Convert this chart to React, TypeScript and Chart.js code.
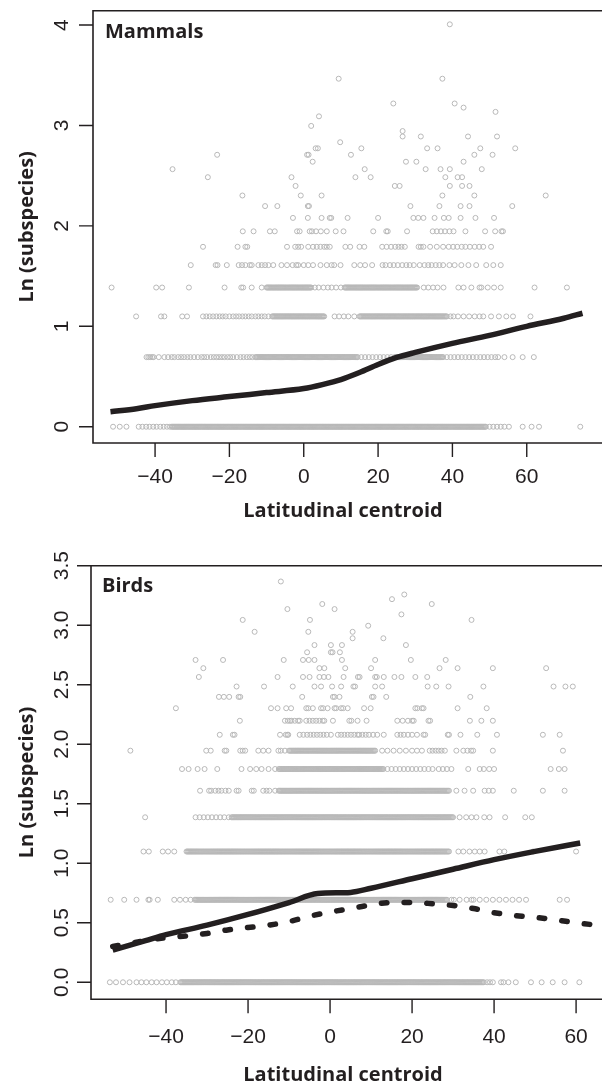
import React, { useEffect, useRef } from "react";
import { Chart, registerables } from "chart.js";

Chart.register(...registerables);

// ---------------- Mammals (top panel) ----------------
// Latitudes of species per subspecies count (plotted at y = ln(count))
const mammalsN1 = [-51.3,-49.5,-47.7,-44.4,-43.4,-42.4,-41.5,-40.5,-39.6,-38.6,-37.7,-36.8,-36,
-35.5,-35.25,-35,-34.75,-34.5,-34.25,-34,-33.75,-33.5,-33.25,-33,-32.75,-32.5,-32.25,-32,-31.75,-31.5,-31.25,-31,-30.75,-30.5,-30.25,-30,-29.75,-29.5,-29.25,-29,-28.75,-28.5,-28.25,-28,-27.75,-27.5,-27.25,-27,-26.75,-26.5,-26.25,-26,-25.75,-25.5,-25.25,-25,-24.75,-24.5,-24.25,-24,-23.75,-23.5,-23.25,-23,-22.75,-22.5,-22.25,-22,-21.75,-21.5,-21.25,-21,-20.75,-20.5,-20.25,-20,-19.75,-19.5,-19.25,-19,-18.75,-18.5,-18.25,-18,-17.75,-17.5,-17.25,-17,-16.75,-16.5,-16.25,-16,-15.75,-15.5,-15.25,-15,-14.75,-14.5,-14.25,-14,-13.75,-13.5,-13.25,-13,-12.75,-12.5,-12.25,-12,-11.75,-11.5,-11.25,-11,-10.75,-10.5,-10.25,-10,-9.75,-9.5,-9.25,-9,-8.75,-8.5,-8.25,-8,-7.75,-7.5,-7.25,-7,-6.75,-6.5,-6.25,-6,-5.75,-5.5,-5.25,-5,-4.75,-4.5,-4.25,-4,-3.75,-3.5,-3.25,-3,-2.75,-2.5,-2.25,-2,-1.75,-1.5,-1.25,-1,-0.75,-0.5,-0.25,0,0.25,0.5,0.75,1,1.25,1.5,1.75,2,2.25,2.5,2.75,3,3.25,3.5,3.75,4,4.25,4.5,4.75,5,5.25,5.5,5.75,6,6.25,6.5,6.75,7,7.25,7.5,7.75,8,8.25,8.5,8.75,9,9.25,9.5,9.75,10,10.25,10.5,10.75,11,11.25,11.5,11.75,12,12.25,12.5,12.75,13,13.25,13.5,13.75,14,14.25,14.5,14.75,15,15.25,15.5,15.75,16,16.25,16.5,16.75,17,17.25,17.5,17.75,18,18.25,18.5,18.75,19,19.25,19.5,19.75,20,20.25,20.5,20.75,21,21.25,21.5,21.75,22,22.25,22.5,22.75,23,23.25,23.5,23.75,24,24.25,24.5,24.75,25,25.25,25.5,25.75,26,26.25,26.5,26.75,27,27.25,27.5,27.75,28,28.25,28.5,28.75,29,29.25,29.5,29.75,30,30.25,30.5,30.75,31,31.25,31.5,31.75,32,32.25,32.5,32.75,33,33.25,33.5,33.75,34,34.25,34.5,34.75,35,35.25,35.5,35.75,36,36.25,36.5,36.75,37,37.25,37.5,37.75,38,38.25,38.5,38.75,39,39.25,39.5,39.75,40,40.25,40.5,40.75,41,41.25,41.5,41.75,42,42.25,42.5,42.75,43,43.25,43.5,43.75,44,44.25,44.5,44.75,45,45.25,45.5,45.75,46,46.25,46.5,46.75,47,47.25,47.5,47.75,48,48.25,48.5,48.75,49,
50,51,52,53,54,55.2,58.9,61.3,63.3,74.4];

const mammalsN2 = [-42.3,-41.8,-41.3,-40.8,-40.4,-39,-37.5,-36.5,-35.5,-34.8,-33.8,-33,-32.2,-31.3,-30.5,-29.5,-28.5,-27.5,-26.8,-26,-25,-24.2,-23.5,-22.8,-22,-21.3,-20.5,-19.8,-19,-18,-17,-16.2,-15.3,-14.5,-13.8,
-13,-12.75,-12.5,-12.25,-12,-11.75,-11.5,-11.25,-11,-10.75,-10.5,-10.25,-10,-9.75,-9.5,-9.25,-9,-8.75,-8.5,-8.25,-8,-7.75,-7.5,-7.25,-7,-6.75,-6.5,-6.25,-6,-5.75,-5.5,-5.25,-5,-4.75,-4.5,-4.25,-4,-3.75,-3.5,-3.25,-3,-2.75,-2.5,-2.25,-2,-1.75,-1.5,-1.25,-1,-0.75,-0.5,-0.25,0,0.25,0.5,0.75,1,1.25,1.5,1.75,2,2.25,2.5,2.75,3,3.25,3.5,3.75,4,4.25,4.5,4.75,5,5.25,5.5,5.75,6,6.25,6.5,6.75,7,7.25,7.5,7.75,8,8.25,8.5,8.75,9,9.25,9.5,9.75,10,10.25,10.5,10.75,11,11.25,11.5,11.75,12,12.25,12.5,12.75,13,13.25,13.5,13.75,14,14.25,14.5,
15.5,16.5,17.5,18.5,19.5,20.5,21.5,22.5,23.5,
24.5,24.75,25,25.25,25.5,25.75,26,26.25,26.5,26.75,27,27.25,27.5,27.75,28,28.25,28.5,28.75,29,29.25,29.5,29.75,30,30.25,30.5,30.75,31,31.25,31.5,31.75,32,32.25,32.5,32.75,33,33.25,33.5,33.75,34,34.25,34.5,34.75,35,35.25,35.5,35.75,36,36.25,36.5,36.75,37,37.25,37.5,
38.5,39.5,40.5,41.5,42.5,43.5,44.5,45.5,46.5,47.5,48.5,49.5,50.5,51.5,52.3,54,56.2,58.9,61.9];

const mammalsN3 = [-45.1,-38.4,-37.5,-32.7,-31.4,-27.1,-26.2,-25.3,-24.4,-23.5,-22.6,-21.8,-21,-20,-19,-18.2,-17.4,-16.5,-15.7,-14.8,-14,-13,-12.2,-11.3,-10.5,-9.5,
-8.5,-8.25,-8,-7.75,-7.5,-7.25,-7,-6.75,-6.5,-6.25,-6,-5.75,-5.5,-5.25,-5,-4.75,-4.5,-4.25,-4,-3.75,-3.5,-3.25,-3,-2.75,-2.5,-2.25,-2,-1.75,-1.5,-1.25,-1,-0.75,-0.5,-0.25,0,0.25,0.5,0.75,1,1.25,1.5,1.75,2,2.25,2.5,2.75,3,3.25,3.5,3.75,4,4.25,4.5,4.75,5,5.25,5.5,
8.3,9.5,10.8,12,13.6,
15,15.25,15.5,15.75,16,16.25,16.5,16.75,17,17.25,17.5,17.75,18,18.25,18.5,18.75,19,19.25,19.5,19.75,20,20.25,20.5,20.75,21,21.25,21.5,21.75,22,22.25,22.5,22.75,23,23.25,23.5,23.75,24,24.25,24.5,24.75,25,25.25,25.5,25.75,26,26.25,26.5,26.75,27,27.25,27.5,27.75,28,28.25,28.5,28.75,29,29.25,29.5,29.75,30,30.25,30.5,30.75,31,31.25,31.5,31.75,32,32.25,32.5,32.75,33,33.25,33.5,33.75,34,34.25,34.5,34.75,35,35.25,35.5,35.75,36,36.25,36.5,36.75,37,37.25,37.5,37.75,38,38.25,38.5,
39.5,40.3,41.5,43,44.5,46,47.3,48.3,50.4,52.5,54.5,56.3,61];

const mammalsN4 = [-51.7,-39.7,-38.1,-30.9,-21.3,-16.8,-16.3,-14,-11.3,
-10,-9.75,-9.5,-9.25,-9,-8.75,-8.5,-8.25,-8,-7.75,-7.5,-7.25,-7,-6.75,-6.5,-6.25,-6,-5.75,-5.5,-5.25,-5,-4.75,-4.5,-4.25,-4,-3.75,-3.5,-3.25,-3,-2.75,-2.5,-2.25,-2,-1.75,-1.5,-1.25,-1,-0.75,-0.5,-0.25,0,0.25,0.5,0.75,1,1.25,1.5,1.75,2,
3,4,5.3,6.5,7.5,8.7,10,
11,11.25,11.5,11.75,12,12.25,12.5,12.75,13,13.25,13.5,13.75,14,14.25,14.5,14.75,15,15.25,15.5,15.75,16,16.25,16.5,16.75,17,17.25,17.5,17.75,18,18.25,18.5,18.75,19,19.25,19.5,19.75,20,20.25,20.5,20.75,21,21.25,21.5,21.75,22,22.25,22.5,22.75,23,23.25,23.5,23.75,24,24.25,24.5,24.75,25,25.25,25.5,25.75,26,26.25,26.5,26.75,27,27.25,27.5,27.75,28,28.25,28.5,28.75,29,29.25,29.5,29.75,30,30.25,30.5,
32.3,33.5,34.8,36,37.6,41.6,43,45.1,47.3,47.8,49.5,51.2,53,62.1,70.8];

const mammalsN5 = [-30.4,-23.7,-23.2,-20.7,-17.5,-16.6,-15.7,-14.5,-14,-12.2,-11.3,-10.4,-9.5,-8.2,-6,-4.5,-3,-2,-1.5,0,1.2,2.5,4.5,6.2,7.5,8.2,9.9,13.6,15.2,16.5,18.4,21.2,22,23.2,24.2,25.3,26.5,27.6,28.5,29.6,31.2,32.5,33.5,34.4,35.5,36.5,37.5,39.2,40.6,42.4,44.3,46.4,49.1,51,53];

const mammalsN6 = [-27.1,-17.8,-15.7,-15.2,-4.5,-2.3,-1.5,-0.7,1.2,2.5,3.5,4.5,5.5,6.2,7,11.2,12.5,15,16.3,21.1,22.3,23.5,24.6,25.5,26.3,27.2,30.9,31.5,32.2,34,35.8,37.5,39,40.2,41.3,42.5,43.5,44.7,46,47.2,48.3,50.4];

const mammalsN7 = [-16.4,-13.5,-9.1,-7.8,-1.8,-1.1,1.6,2.2,3.3,4.6,6.2,8.6,10.7,18.7,22.2,22.6,27.8,34.7,35.8,36.9,38,39.2,40.3,43.5,48.8,51.5,53.2,53.6];

const mammalsSparse: [number, number[]][] = [
  [8, [-2.9,1.1,4.8,7,7.4,11.8,20,29.5,30.8,32.2,35.2,37.7,39,42.2,46.2,51.2]],
  [9, [-10.4,-7.1,1.1,1.4,28.7,36.5,42.2,44.6,56.1]],
  [10, [-16.5,-0.8,4.8,37.3,45.9,65.1]],
  [11, [-2.2,24.5,25.8,39.3,42.6,44.6]],
  [12, [-25.8,-3.3,13.9,18,38.1,41.4,42.6]],
  [13, [-35.3,16.4,32.8,36.8,39.3,47.9]],
  [14, [2.4,27.5,30.3,43]],
  [15, [-23.3,0.9,1.3,12.7,45.9,50.8]],
  [16, [3.2,3.8,15.5,33.2,36,47.5,56.9]],
  [17, [9.8]],
  [18, [26.6,31.5,44.2,52]],
  [19, [26.6]],
  [20, [2]],
  [22, [4.1]],
  [23, [51.6]],
  [24, [43]],
  [25, [24.1,40.6]],
  [32, [9.4,37.3]],
  [55, [39.3]],
];

const mammalsFitX = [-52,-45,-40,-30,-20,-10,0,5,10,15,20,25,30,40,50,60,70,75];
const mammalsFitY = [0.15,0.18,0.21,0.26,0.30,0.34,0.38,0.42,0.47,0.54,0.62,0.69,0.74,0.83,0.91,1.0,1.08,1.13];

// ---------------- Birds (bottom panel) ----------------
const birdsN1 = [-53.7,-52.2,-50.5,-48.9,-47.2,-46,-44.8,-43.5,-42.3,-41,-39.8,-38.6,-37.6,
-36.5,-36.25,-36,-35.75,-35.5,-35.25,-35,-34.75,-34.5,-34.25,-34,-33.75,-33.5,-33.25,-33,-32.75,-32.5,-32.25,-32,-31.75,-31.5,-31.25,-31,-30.75,-30.5,-30.25,-30,-29.75,-29.5,-29.25,-29,-28.75,-28.5,-28.25,-28,-27.75,-27.5,-27.25,-27,-26.75,-26.5,-26.25,-26,-25.75,-25.5,-25.25,-25,-24.75,-24.5,-24.25,-24,-23.75,-23.5,-23.25,-23,-22.75,-22.5,-22.25,-22,-21.75,-21.5,-21.25,-21,-20.75,-20.5,-20.25,-20,-19.75,-19.5,-19.25,-19,-18.75,-18.5,-18.25,-18,-17.75,-17.5,-17.25,-17,-16.75,-16.5,-16.25,-16,-15.75,-15.5,-15.25,-15,-14.75,-14.5,-14.25,-14,-13.75,-13.5,-13.25,-13,-12.75,-12.5,-12.25,-12,-11.75,-11.5,-11.25,-11,-10.75,-10.5,-10.25,-10,-9.75,-9.5,-9.25,-9,-8.75,-8.5,-8.25,-8,-7.75,-7.5,-7.25,-7,-6.75,-6.5,-6.25,-6,-5.75,-5.5,-5.25,-5,-4.75,-4.5,-4.25,-4,-3.75,-3.5,-3.25,-3,-2.75,-2.5,-2.25,-2,-1.75,-1.5,-1.25,-1,-0.75,-0.5,-0.25,0,0.25,0.5,0.75,1,1.25,1.5,1.75,2,2.25,2.5,2.75,3,3.25,3.5,3.75,4,4.25,4.5,4.75,5,5.25,5.5,5.75,6,6.25,6.5,6.75,7,7.25,7.5,7.75,8,8.25,8.5,8.75,9,9.25,9.5,9.75,10,10.25,10.5,10.75,11,11.25,11.5,11.75,12,12.25,12.5,12.75,13,13.25,13.5,13.75,14,14.25,14.5,14.75,15,15.25,15.5,15.75,16,16.25,16.5,16.75,17,17.25,17.5,17.75,18,18.25,18.5,18.75,19,19.25,19.5,19.75,20,20.25,20.5,20.75,21,21.25,21.5,21.75,22,22.25,22.5,22.75,23,23.25,23.5,23.75,24,24.25,24.5,24.75,25,25.25,25.5,25.75,26,26.25,26.5,26.75,27,27.25,27.5,27.75,28,28.25,28.5,28.75,29,29.25,29.5,29.75,30,30.25,30.5,30.75,31,31.25,31.5,31.75,32,32.25,32.5,32.75,33,33.25,33.5,33.75,34,34.25,34.5,34.75,35,35.25,35.5,35.75,36,36.25,36.5,36.75,37,37.25,37.5,
38.3,39,39.7,41.7,42.3,43.5,45.3,49,51.6,54.3,57.2,60.8];

const birdsN2 = [-53.5,-50.2,-47.2,-44.3,-44,-42,-38,-36.6,-35.2,-34,
-33,-32.75,-32.5,-32.25,-32,-31.75,-31.5,-31.25,-31,-30.75,-30.5,-30.25,-30,-29.75,-29.5,-29.25,-29,-28.75,-28.5,-28.25,-28,-27.75,-27.5,-27.25,-27,-26.75,-26.5,-26.25,-26,-25.75,-25.5,-25.25,-25,-24.75,-24.5,-24.25,-24,-23.75,-23.5,-23.25,-23,-22.75,-22.5,-22.25,-22,-21.75,-21.5,-21.25,-21,-20.75,-20.5,-20.25,-20,-19.75,-19.5,-19.25,-19,-18.75,-18.5,-18.25,-18,-17.75,-17.5,-17.25,-17,-16.75,-16.5,-16.25,-16,-15.75,-15.5,-15.25,-15,-14.75,-14.5,-14.25,-14,-13.75,-13.5,-13.25,-13,-12.75,-12.5,-12.25,-12,-11.75,-11.5,-11.25,-11,-10.75,-10.5,-10.25,-10,-9.75,-9.5,-9.25,-9,-8.75,-8.5,-8.25,-8,-7.75,-7.5,-7.25,-7,-6.75,-6.5,-6.25,-6,-5.75,-5.5,-5.25,-5,-4.75,-4.5,-4.25,-4,-3.75,-3.5,-3.25,-3,-2.75,-2.5,-2.25,-2,-1.75,-1.5,-1.25,-1,-0.75,-0.5,-0.25,0,0.25,0.5,0.75,1,1.25,1.5,1.75,2,2.25,2.5,2.75,3,3.25,3.5,3.75,4,4.25,4.5,4.75,5,5.25,5.5,5.75,6,6.25,6.5,6.75,7,7.25,7.5,7.75,8,8.25,8.5,8.75,9,9.25,9.5,9.75,10,10.25,10.5,10.75,11,11.25,11.5,11.75,12,12.25,12.5,12.75,13,13.25,13.5,13.75,14,14.25,14.5,14.75,15,15.25,15.5,15.75,16,16.25,16.5,16.75,17,17.25,17.5,17.75,18,18.25,18.5,18.75,19,19.25,19.5,19.75,20,20.25,20.5,20.75,21,21.25,21.5,21.75,22,22.25,22.5,22.75,23,23.25,23.5,23.75,24,24.25,24.5,24.75,25,25.25,25.5,25.75,26,26.25,26.5,26.75,27,27.25,27.5,27.75,28,28.25,28.5,
29.6,30.2,31.6,33.3,34.5,35,36.5,38.1,39.7,41.3,42.9,44.5,46.1,47.8,56,57.8];

const birdsN3 = [-45.5,-44.2,-40.8,-39.5,-38,
-35,-34.75,-34.5,-34.25,-34,-33.75,-33.5,-33.25,-33,-32.75,-32.5,-32.25,-32,-31.75,-31.5,-31.25,-31,-30.75,-30.5,-30.25,-30,-29.75,-29.5,-29.25,-29,-28.75,-28.5,-28.25,-28,-27.75,-27.5,-27.25,-27,-26.75,-26.5,-26.25,-26,-25.75,-25.5,-25.25,-25,-24.75,-24.5,-24.25,-24,-23.75,-23.5,-23.25,-23,-22.75,-22.5,-22.25,-22,-21.75,-21.5,-21.25,-21,-20.75,-20.5,-20.25,-20,-19.75,-19.5,-19.25,-19,-18.75,-18.5,-18.25,-18,-17.75,-17.5,-17.25,-17,-16.75,-16.5,-16.25,-16,-15.75,-15.5,-15.25,-15,-14.75,-14.5,-14.25,-14,-13.75,-13.5,-13.25,-13,-12.75,-12.5,-12.25,-12,-11.75,-11.5,-11.25,-11,-10.75,-10.5,-10.25,-10,-9.75,-9.5,-9.25,-9,-8.75,-8.5,-8.25,-8,-7.75,-7.5,-7.25,-7,-6.75,-6.5,-6.25,-6,-5.75,-5.5,-5.25,-5,-4.75,-4.5,-4.25,-4,-3.75,-3.5,-3.25,-3,-2.75,-2.5,-2.25,-2,-1.75,-1.5,-1.25,-1,-0.75,-0.5,-0.25,0,0.25,0.5,0.75,1,1.25,1.5,1.75,2,2.25,2.5,2.75,3,3.25,3.5,3.75,4,4.25,4.5,4.75,5,5.25,5.5,5.75,6,6.25,6.5,6.75,7,7.25,7.5,7.75,8,8.25,8.5,8.75,9,9.25,9.5,9.75,10,10.25,10.5,10.75,11,11.25,11.5,11.75,12,12.25,12.5,12.75,13,13.25,13.5,13.75,14,14.25,14.5,14.75,15,15.25,15.5,15.75,16,16.25,16.5,16.75,17,17.25,17.5,17.75,18,18.25,18.5,18.75,19,19.25,19.5,19.75,20,20.25,20.5,20.75,21,21.25,21.5,21.75,22,22.25,22.5,22.75,23,23.25,23.5,23.75,24,24.25,24.5,24.75,25,25.25,25.5,25.75,26,26.25,26.5,26.75,27,27.25,27.5,27.75,28,28.25,28.5,28.75,29,
31.3,32.5,34,35.3,36.5,37.7,41.3,42.5,49.5,60];

const birdsN4 = [-45.1,-32.8,-31.8,-30.8,-29.8,-28.8,-27.8,-26.8,-25.8,-24.7,
-24,-23.75,-23.5,-23.25,-23,-22.75,-22.5,-22.25,-22,-21.75,-21.5,-21.25,-21,-20.75,-20.5,-20.25,-20,-19.75,-19.5,-19.25,-19,-18.75,-18.5,-18.25,-18,-17.75,-17.5,-17.25,-17,-16.75,-16.5,-16.25,-16,-15.75,-15.5,-15.25,-15,-14.75,-14.5,-14.25,-14,-13.75,-13.5,-13.25,-13,-12.75,-12.5,-12.25,-12,-11.75,-11.5,-11.25,-11,-10.75,-10.5,-10.25,-10,-9.75,-9.5,-9.25,-9,-8.75,-8.5,-8.25,-8,-7.75,-7.5,-7.25,-7,-6.75,-6.5,-6.25,-6,-5.75,-5.5,-5.25,-5,-4.75,-4.5,-4.25,-4,-3.75,-3.5,-3.25,-3,-2.75,-2.5,-2.25,-2,-1.75,-1.5,-1.25,-1,-0.75,-0.5,-0.25,0,0.25,0.5,0.75,1,1.25,1.5,1.75,2,2.25,2.5,2.75,3,3.25,3.5,3.75,4,4.25,4.5,4.75,5,5.25,5.5,5.75,6,6.25,6.5,6.75,7,7.25,7.5,7.75,8,8.25,8.5,8.75,9,9.25,9.5,9.75,10,10.25,10.5,10.75,11,11.25,11.5,11.75,12,12.25,12.5,12.75,13,13.25,13.5,13.75,14,14.25,14.5,14.75,15,15.25,15.5,15.75,16,16.25,16.5,16.75,17,17.25,17.5,17.75,18,18.25,18.5,18.75,19,19.25,19.5,19.75,20,20.25,20.5,20.75,21,21.25,21.5,21.75,22,22.25,22.5,22.75,23,23.25,23.5,23.75,24,24.25,24.5,24.75,25,25.25,25.5,25.75,26,26.25,26.5,26.75,27,27.25,27.5,27.75,28,28.25,28.5,28.75,29,29.25,29.5,29.75,30,
31.6,33.2,34.5,35.7,37.6,38.9,42.7,47.6,49.2];

const birdsN5 = [-31.7,-29.5,-29,-28,-27.2,-26.5,-25.5,-24.7,-22.8,-22.3,-19.1,-18.6,-16.3,-15.5,-14.8,-13.4,
-12.5,-12.25,-12,-11.75,-11.5,-11.25,-11,-10.75,-10.5,-10.25,-10,-9.75,-9.5,-9.25,-9,-8.75,-8.5,-8.25,-8,-7.75,-7.5,-7.25,-7,-6.75,-6.5,-6.25,-6,-5.75,-5.5,-5.25,-5,-4.75,-4.5,-4.25,-4,-3.75,-3.5,-3.25,-3,-2.75,-2.5,-2.25,-2,-1.75,-1.5,-1.25,-1,-0.75,-0.5,-0.25,0,0.25,0.5,0.75,1,1.25,1.5,1.75,2,2.25,2.5,2.75,3,3.25,3.5,3.75,4,4.25,4.5,4.75,5,5.25,5.5,5.75,6,6.25,6.5,6.75,7,7.25,7.5,7.75,8,8.25,8.5,8.75,9,9.25,9.5,9.75,10,10.25,10.5,10.75,11,11.25,11.5,11.75,12,12.25,12.5,12.75,13,13.25,13.5,13.75,14,14.25,14.5,14.75,15,15.25,15.5,15.75,16,16.25,16.5,16.75,17,17.25,17.5,17.75,18,18.25,18.5,18.75,19,19.25,19.5,19.75,20,20.25,20.5,20.75,21,21.25,21.5,21.75,22,22.25,22.5,22.75,23,23.25,23.5,23.75,24,24.25,24.5,24.75,25,25.25,25.5,25.75,26,26.25,26.5,26.75,27,27.25,27.5,27.75,28,28.25,28.5,28.75,29,
30.8,32.8,34.9,37.7,38.7,39.7,44.8,51.9,57.2];

const birdsN6 = [-36.1,-34.5,-32.3,-30.6,-27.5,-21.6,-19.5,-18,-16.7,-15,-13.4,
-12.5,-12.25,-12,-11.75,-11.5,-11.25,-11,-10.75,-10.5,-10.25,-10,-9.75,-9.5,-9.25,-9,-8.75,-8.5,-8.25,-8,-7.75,-7.5,-7.25,-7,-6.75,-6.5,-6.25,-6,-5.75,-5.5,-5.25,-5,-4.75,-4.5,-4.25,-4,-3.75,-3.5,-3.25,-3,-2.75,-2.5,-2.25,-2,-1.75,-1.5,-1.25,-1,-0.75,-0.5,-0.25,0,0.25,0.5,0.75,1,1.25,1.5,1.75,2,2.25,2.5,2.75,3,3.25,3.5,3.75,4,4.25,4.5,4.75,5,5.25,5.5,5.75,6,6.25,6.5,6.75,7,7.25,7.5,7.75,8,8.25,8.5,8.75,9,9.25,9.5,9.75,10,10.25,10.5,10.75,11,11.25,11.5,11.75,12,12.25,12.5,12.75,13,
14,15,16,17,18,19,20,21,22,23,24,25,26.5,27.5,28.5,29.6,33.7,36.5,37.5,38.8,40,53.8,55.8,57.2];

const birdsN7 = [-48.7,-30.2,-29.1,-25.7,-25.3,-21.9,-21.3,-20.7,-17.5,-16.3,-15,-12.6,-12,-11,
-10,-9.75,-9.5,-9.25,-9,-8.75,-8.5,-8.25,-8,-7.75,-7.5,-7.25,-7,-6.75,-6.5,-6.25,-6,-5.75,-5.5,-5.25,-5,-4.75,-4.5,-4.25,-4,-3.75,-3.5,-3.25,-3,-2.75,-2.5,-2.25,-2,-1.75,-1.5,-1.25,-1,-0.75,-0.5,-0.25,0,0.25,0.5,0.75,1,1.25,1.5,1.75,2,2.25,2.5,2.75,3,3.25,3.5,3.75,4,4.25,4.5,4.75,5,5.25,5.5,5.75,6,6.25,6.5,6.75,7,7.25,7.5,7.75,8,8.25,8.5,8.75,9,9.25,9.5,9.75,10,10.25,10.5,10.75,11,
12.7,14,15.5,17,18.5,20,21.2,22.4,24.3,25,25.8,26.5,27.2,28,30.8,32.5,33.5,34.4,34.9,39.7,56.8];

const birdsN8 = [-26.9,-23.7,-23.3,-12.2,-10.8,-10.4,-10.2,-7.4,-6.5,-5.6,-4.8,-4,-3.2,-2.4,-1.6,-0.8,0.2,1.9,2.7,3.5,4.3,5.1,5.9,6.7,7.1,7.9,8.7,9.5,10.5,11.5,13.1,16.4,17.2,18,19,20,21.2,22.8,23.2,28.7,29,31.8,35.9,40.7,51.9,56];

const birdsN9 = [-22,-11,-10.3,-9.8,-9.4,-8.6,-7.8,-7.4,-5.8,-5,-4.2,-3.4,-2.6,-1.8,-1.4,0.7,4.7,5.2,6.7,8.9,16.4,17.7,19,20,20.4,24,24.4,34.1,36.9,39.7];

const birdsN10 = [-37.6,-14.4,-12.8,-10.7,-9.5,-5.8,-5.3,-4.2,-2.2,-1.7,-0.6,1.1,1.5,2.7,3.2,4.3,8.3,9.9,20.8,21.3,22.4,22.8,31.1,38.2];

const birdsSparse: [number, number[]][] = [
  [11, [-27.1,-25.9,-24.6,-22.3,-21.9,-6.8,0.7,1.1,2.3,10.2,10.6,13.7,34.2]],
  [12, [-22.8,-16.1,-9.1,-3.8,-2.2,0.5,2.7,5.7,6.1,11,12.7,23.8,25.9,28.9,37.4,54.5,57.4,59.2]],
  [13, [-32,-12.8,-6.6,-5,-2.6,-1.5,-0.4,3.3,6.8,7.2,11,11.4,13.1,15.7,17.4,20.8,23.7]],
  [14, [-30.9,-2.6,-1.4,3.7,10,26.7,31.1,39.7,52.7]],
  [15, [-32.8,-26.1,-11.3,-6.6,-5.2,-3.8,2.9,11,19.7,28.2]],
  [16, [-5.6,0.2,0.6,2.4]],
  [17, [-3.8,0.2,2.9,18.5]],
  [18, [5.5,13]],
  [19, [-18.4,-5.3,5.5]],
  [20, [9.3]],
  [21, [-21.3,-4.9,34.5]],
  [22, [17.4]],
  [23, [-10.4,1.1]],
  [24, [-1.9,24.8]],
  [25, [15.1]],
  [26, [18.1]],
  [29, [-12]],
];

const birdsFitX = [-53,-45,-40,-30,-20,-10,-3,5,10,20,30,40,50,61];
const birdsFitY = [0.27,0.35,0.40,0.48,0.57,0.67,0.745,0.755,0.79,0.87,0.95,1.03,1.10,1.17];
const birdsDashX = [-53,-45,-40,-35,-30,-25,-20,-15,-10,-5,0,5,10,15,20,25,30,35,40,45,50,55,60,65];
const birdsDashY = [0.30,0.35,0.375,0.39,0.41,0.44,0.46,0.48,0.51,0.555,0.59,0.62,0.65,0.67,0.67,0.66,0.645,0.62,0.585,0.56,0.545,0.525,0.50,0.48];

const mammalTicksX = [-40, -20, 0, 20, 40, 60];
const mammalTicksY = [0, 1, 2, 3, 4];
const birdTicksX = [-40, -20, 0, 20, 40, 60];
const birdTicksY = [0, 0.5, 1, 1.5, 2, 2.5, 3, 3.5];

const X_TITLE = "Latitudinal centroid";
const Y_TITLE = "Ln (subspecies)";

const INK = "#231f20";
const DOT = "#b8b8b8";

function toPoints(rows: [number, number[]][]) {
  const pts: { x: number; y: number }[] = [];
  for (const [n, lats] of rows) for (const x of lats) pts.push({ x, y: Math.log(n) });
  return pts;
}
function toLine(xs: number[], ys: number[]) {
  return xs.map((x, i) => ({ x, y: ys[i] }));
}

type Decor = {
  xTicks: number[];
  yTicks: number[];
  yFmt: (v: number) => string;
  xLabelBase: number;
  yLabelBase: number;
  xTitleX: number;
  xTitleBase: number;
  yTitleBase: number;
  panel: string;
  panelX: number;
  panelBase: number;
};

function decorPlugin(cfg: Decor) {
  return {
    id: "decor",
    afterDraw(chart: any) {
      const ctx: CanvasRenderingContext2D = chart.ctx;
      const { left, right, top, bottom } = chart.chartArea;
      const xs = chart.scales.x;
      const ys = chart.scales.y;
      ctx.save();
      ctx.strokeStyle = INK;
      ctx.lineWidth = 1.6;
      ctx.beginPath();
      ctx.moveTo(right + 5, top);
      ctx.lineTo(left, top);
      ctx.lineTo(left, bottom);
      ctx.lineTo(right + 5, bottom);
      ctx.stroke();
      ctx.lineWidth = 1.4;
      ctx.beginPath();
      for (const v of cfg.xTicks) {
        const p = xs.getPixelForValue(v);
        ctx.moveTo(p, bottom);
        ctx.lineTo(p, bottom + 14);
      }
      for (const v of cfg.yTicks) {
        const p = ys.getPixelForValue(v);
        ctx.moveTo(left, p);
        ctx.lineTo(left - 14, p);
      }
      ctx.stroke();
      ctx.fillStyle = INK;
      ctx.font = '21px "Liberation Sans", Arial, sans-serif';
      ctx.textAlign = "center";
      ctx.textBaseline = "alphabetic";
      for (const v of cfg.xTicks) {
        const lab = v < 0 ? "\u2212" + Math.abs(v) : String(v);
        ctx.fillText(lab, xs.getPixelForValue(v), cfg.xLabelBase);
      }
      for (const v of cfg.yTicks) {
        ctx.save();
        ctx.translate(cfg.yLabelBase, ys.getPixelForValue(v));
        ctx.rotate(-Math.PI / 2);
        ctx.fillText(cfg.yFmt(v), 0, 0);
        ctx.restore();
      }
      ctx.font = 'bold 20px "Open Sans", "Noto Sans", sans-serif';
      ctx.fillText(X_TITLE, cfg.xTitleX, cfg.xTitleBase);
      ctx.save();
      ctx.translate(cfg.yTitleBase, (top + bottom) / 2);
      ctx.rotate(-Math.PI / 2);
      ctx.fillText(Y_TITLE, 0, 0);
      ctx.restore();
      ctx.textAlign = "left";
      ctx.fillText(cfg.panel, cfg.panelX, cfg.panelBase);
      ctx.restore();
    },
  };
}

function dotDataset(rows: [number, number[]][]) {
  return {
    type: "scatter" as const,
    data: toPoints(rows),
    pointRadius: 2.5,
    pointBorderWidth: 1,
    pointBorderColor: DOT,
    pointBackgroundColor: "rgba(0,0,0,0)",
    order: 5,
  };
}

function lineDataset(pts: { x: number; y: number }[], dash: number[] | null, order: number) {
  return {
    type: "scatter" as const,
    data: pts,
    showLine: true,
    pointRadius: 0,
    borderColor: INK,
    borderWidth: 5.5,
    borderDash: dash || [],
    borderCapStyle: dash ? ("round" as const) : ("butt" as const),
    borderJoinStyle: "round" as const,
    cubicInterpolationMode: "monotone" as const,
    order,
  };
}

function makeChart(
  canvas: HTMLCanvasElement,
  datasets: any[],
  padding: { left: number; right: number; top: number; bottom: number },
  xr: [number, number],
  yr: [number, number],
  decor: Decor
) {
  return new Chart(canvas, {
    type: "scatter",
    data: { datasets },
    options: {
      responsive: false,
      animation: false,
      devicePixelRatio: 1,
      events: [],
      layout: { padding },
      plugins: { legend: { display: false }, tooltip: { enabled: false } },
      scales: {
        x: { type: "linear", display: false, min: xr[0], max: xr[1] },
        y: { type: "linear", display: false, min: yr[0], max: yr[1] },
      },
    },
    plugins: [decorPlugin(decor)],
  });
}

export default function App() {
  const topRef = useRef<HTMLCanvasElement>(null);
  const botRef = useRef<HTMLCanvasElement>(null);

  useEffect(() => {
    const mammalRows: [number, number[]][] = [
      [1, mammalsN1], [2, mammalsN2], [3, mammalsN3], [4, mammalsN4],
      [5, mammalsN5], [6, mammalsN6], [7, mammalsN7], ...mammalsSparse,
    ];
    const birdRows: [number, number[]][] = [
      [1, birdsN1], [2, birdsN2], [3, birdsN3], [4, birdsN4], [5, birdsN5],
      [6, birdsN6], [7, birdsN7], [8, birdsN8], [9, birdsN9], [10, birdsN10], ...birdsSparse,
    ];

    const c1 = makeChart(
      topRef.current!,
      [lineDataset(toLine(mammalsFitX, mammalsFitY), null, 0), dotDataset(mammalRows)],
      { left: 93, right: 0, top: 10.7, bottom: 97 },
      [-56.7, 78.9],
      [-0.162, 4.143],
      {
        xTicks: mammalTicksX,
        yTicks: mammalTicksY,
        yFmt: (v) => String(v),
        xLabelBase: 483,
        yLabelBase: 68,
        xTitleX: 343,
        xTitleBase: 517,
        yTitleBase: 33,
        panel: "Mammals",
        panelX: 105,
        panelBase: 37.5,
      }
    );
    const c2 = makeChart(
      botRef.current!,
      [
        lineDataset(toLine(birdsFitX, birdsFitY), null, 0),
        lineDataset(toLine(birdsDashX, birdsDashY), [5.5, 17.2], 1),
        dotDataset(birdRows),
      ],
      { left: 91, right: 0, top: 25.7, bottom: 85.7 },
      [-58.3, 65.1],
      [-0.143, 3.5],
      {
        xTicks: birdTicksX,
        yTicks: birdTicksY,
        yFmt: (v) => v.toFixed(1),
        xLabelBase: 503,
        yLabelBase: 68,
        xTitleX: 343,
        xTitleBase: 541,
        yTitleBase: 33,
        panel: "Birds",
        panelX: 102,
        panelBase: 51.7,
      }
    );
    return () => {
      c1.destroy();
      c2.destroy();
    };
  }, []);

  return (
    <div style={{ position: "absolute", left: 0, top: 0, width: 602, height: 1085, background: "#fff", overflow: "hidden" }}>
      <canvas ref={topRef} width={602} height={540} style={{ position: "absolute", left: 0, top: 0 }} />
      <canvas ref={botRef} width={602} height={545} style={{ position: "absolute", left: 0, top: 540 }} />
    </div>
  );
}
